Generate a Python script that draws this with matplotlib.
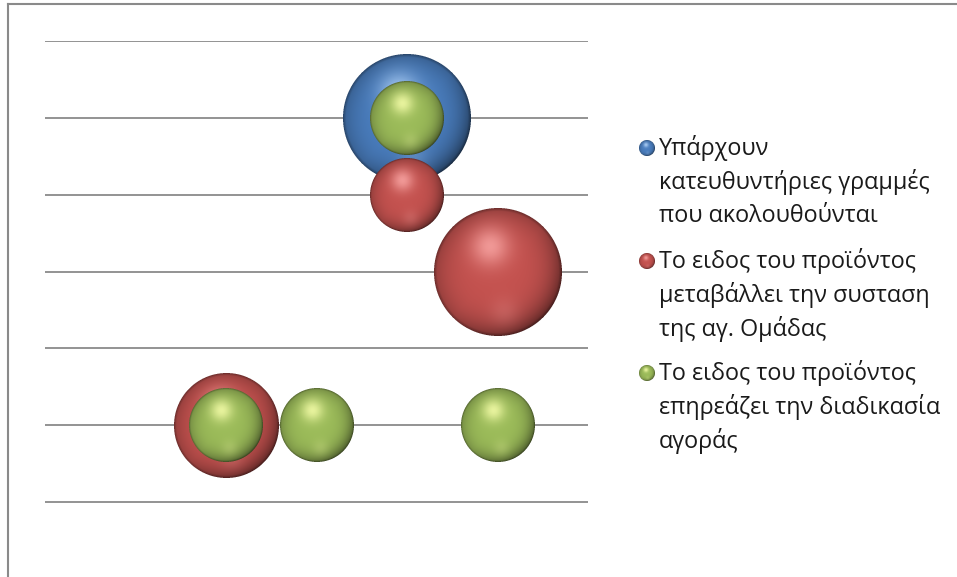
import numpy as np
import matplotlib
matplotlib.use("Agg")
import matplotlib.pyplot as plt
import matplotlib.colors as mcolors
from matplotlib.offsetbox import OffsetImage, AnnotationBbox
from matplotlib.lines import Line2D

# -----------------------------
# DATA
# -----------------------------

series_names = [
    "Υπάρχουν\nκατευθυντήριες γραμμές\nπου ακολουθούνται",
    "Το ειδος του προϊόντος\nμεταβάλλει την συσταση\nτης αγ. Ομάδας",
    "Το ειδος του προϊόντος\nεπηρεάζει την διαδικασία\nαγοράς",
]
series_colors = ["#4a7ebf", "#c4524f", "#9bbb59"]
highlight_colors = ["#b4d4f8", "#f8a4a2", "#f4fca8"]

blue_x = [4]
blue_y = [6]
blue_size = [3]

red_x = [4, 5, 2]
red_y = [5, 4, 2]
red_size = [1, 3, 2]

green_x = [4, 2, 3, 5]
green_y = [6, 2, 2, 2]
green_size = [1, 1, 1, 1]

grid_levels = [1, 2, 3, 4, 5, 6, 7]

# -----------------------------
# SPHERE TEXTURE
# -----------------------------

def sphere_img(color, hcolor, d, ss=4):
    n = max(int(round(d)), 2)
    N = n * ss
    yy, xx = np.mgrid[0:N, 0:N]
    u = (xx + 0.5) / N * 2 - 1
    v = (yy + 0.5) / N * 2 - 1
    r = np.sqrt(u**2 + v**2)
    base = np.array(mcolors.to_rgb(color))
    hc = np.array(mcolors.to_rgb(hcolor))

    shade = 1.0 - 0.25 * r**4 - 0.2 * np.clip(u + v, 0, None) * r**3
    rgb = base[None, None, :] * shade[..., None]

    hl = 0.85 * np.exp(-((u + 0.12)**2 + (v + 0.4)**2) / 0.09)
    rgb = rgb * (1 - hl[..., None]) + hc[None, None, :] * hl[..., None]

    refl = 0.2 * np.exp(-((u - 0.1)**2 + (v - 0.62)**2) / 0.05)
    rgb = rgb * (1 - refl[..., None]) + hc[None, None, :] * refl[..., None]

    rim = np.clip((r - 0.95) / 0.05, 0, 1)
    rgb = rgb * (1 - 0.28 * rim[..., None])

    alpha = (r <= 1.0).astype(float)
    rgba = np.dstack([np.clip(rgb, 0, 1) * alpha[..., None], alpha])
    rgba = rgba.reshape(n, ss, n, ss, 4).mean(axis=(1, 3))
    a = rgba[..., 3:4]
    rgba[..., :3] = np.where(a > 0, rgba[..., :3] / np.maximum(a, 1e-6), 1)
    return rgba


def add_bubbles(ax, xs, ys, sizes, color, hcolor, z):
    for x, y, s in zip(xs, ys, sizes):
        d = 2 * 37 * np.sqrt(s)
        im = OffsetImage(sphere_img(color, hcolor, d), zoom=1, dpi_cor=False)
        ab = AnnotationBbox(im, (x, y), xycoords="data", frameon=False,
                            pad=0, box_alignment=(0.5, 0.5), zorder=z)
        ab.set_clip_on(False)
        ax.add_artist(ab)


# -----------------------------
# FIGURE
# -----------------------------

W, H = 957, 577
fig = plt.figure(figsize=(W / 100, H / 100), dpi=100)

ax = fig.add_axes([45 / W, (H - 579) / H, 543 / W, 538 / H])
ax.set_xlim(0, 6)
ax.set_ylim(0, 7)
ax.set_yticks(grid_levels)
ax.set_xticks([])
ax.yaxis.grid(True, color="#8a8a8a", linewidth=1.3)
ax.tick_params(left=False, labelleft=False)
for sp in ax.spines.values():
    sp.set_visible(False)
ax.set_axisbelow(True)
ax.patch.set_alpha(0)

add_bubbles(ax, blue_x, blue_y, blue_size, series_colors[0], highlight_colors[0], 3)
add_bubbles(ax, red_x, red_y, red_size, series_colors[1], highlight_colors[1], 4)
add_bubbles(ax, green_x, green_y, green_size, series_colors[2], highlight_colors[2], 5)

# outer frame (top and left edges visible)
fig.add_artist(Line2D([8 / W, 1], [1 - 4 / H, 1 - 4 / H],
                      transform=fig.transFigure, color="#8a8a8a", lw=1.5))
fig.add_artist(Line2D([8 / W, 8 / W], [0, 1 - 4 / H],
                      transform=fig.transFigure, color="#8a8a8a", lw=1.5))

# -----------------------------
# LEGEND
# -----------------------------

entry_top = [148, 261, 373]
line_gap = 34
for name, color, hcolor, y0 in zip(series_names, series_colors,
                                   highlight_colors, entry_top):
    im = OffsetImage(sphere_img(color, hcolor, 16), zoom=1, dpi_cor=False)
    ab = AnnotationBbox(im, (647 / W, 1 - y0 / H), xycoords="figure fraction",
                        frameon=False, pad=0, box_alignment=(0.5, 0.5))
    fig.add_artist(ab)
    for i, line in enumerate(name.split("\n")):
        fig.text(659 / W, 1 - (y0 + i * line_gap) / H, line,
                 fontsize=16.8, family="Open Sans", color="#1a1a1a",
                 va="center", ha="left")

fig.savefig("out.png", dpi=100)
